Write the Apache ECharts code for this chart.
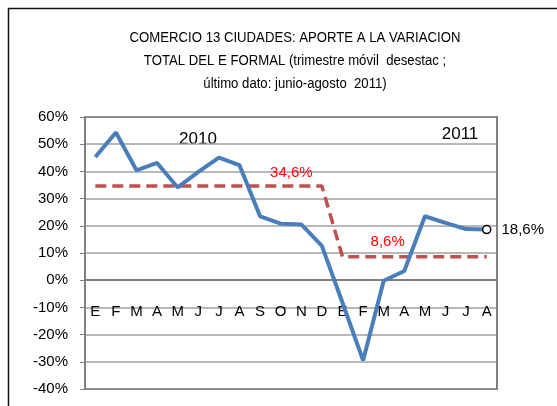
<!DOCTYPE html>
<html>
<head>
<meta charset="utf-8">
<script src="https://cdn.jsdelivr.net/npm/echarts@6/dist/echarts.min.js"></script>
<style>
  html, body { margin: 0; padding: 0; background: #fff; }
  #chart { width: 557px; height: 406px; }
</style>
</head>
<body>
<div id="chart"></div>
<script>
// meses: ene 2010 - ago 2011
const meses = ['E', 'F', 'M', 'A', 'M', 'J', 'J', 'A', 'S', 'O', 'N', 'D',
  'E', 'F', 'M', 'A', 'M', 'J', 'J', 'A']
// aporte a la variacion (%)
const aporte = [45.3, 54.3, 40.4, 43.1, 34.1, 39.8, 45.1, 42.3, 23.5, 20.8, 20.5, 12.6,
  -8.3, -29.5, -0.2, 3.4, 23.5, 21.1, 18.8, 18.6]
// promedio anual (%)
const promedio = [34.6, 34.6, 34.6, 34.6, 34.6, 34.6, 34.6, 34.6, 34.6, 34.6, 34.6, 34.6,
  8.6, 8.6, 8.6, 8.6, 8.6, 8.6, 8.6, 8.6]
const yTicks = { min: -40, max: 60, step: 10 }

const FONT = "'Liberation Sans', sans-serif"
const fmt = v => v.toFixed(1).replace('.', ',') + '%'

const last = aporte.length - 1
const aporteData = aporte.map((v, i) => {
  if (i !== last) return v
  return {
    value: v,
    symbol: 'circle',
    symbolSize: 8,
    itemStyle: { color: '#fff', borderColor: '#000', borderWidth: 1.5 },
    label: {
      show: true, position: 'right', distance: 10,
      color: '#000', fontSize: 15, fontFamily: FONT,
      formatter: p => fmt(p.value)
    }
  }
})

// etiquetas rojas de los promedios (con simbolo invisible para que salga la etiqueta)
const labelIdx = { 10: [-10, 0], 14: [4, -2] }
const promedioData = promedio.map((v, i) => {
  if (!(i in labelIdx)) return v
  return {
    value: v,
    symbol: 'circle',
    symbolSize: 1,
    itemStyle: { color: 'rgba(0,0,0,0)', borderWidth: 0 },
    label: {
      show: true, position: 'top', distance: 5, offset: labelIdx[i],
      color: '#ff0000', fontSize: 15, fontFamily: FONT,
      formatter: p => fmt(p.value)
    }
  }
})

// el eje x va en el 0%: 109 px por encima del borde inferior
const zeroOffset = -109

const chart = echarts.init(document.getElementById('chart'), null, { renderer: 'canvas' })
chart.setOption({
  animation: false,
  backgroundColor: '#fff',
  grid: {
    left: 85, top: 117, right: 60, bottom: 17,
    outerBoundsMode: 'none',
    containLabel: false,
    show: true, borderColor: '#111', borderWidth: 1.5
  },
  graphic: [
    {
      type: 'rect', silent: true,
      shape: { x: 8.5, y: 8.5, width: 560, height: 420 },
      style: { fill: null, stroke: '#111', lineWidth: 1.5 }
    },
    {
      type: 'text', x: 295, y: 26, scaleX: 0.94,
      style: {
        text: 'COMERCIO 13 CIUDADES: APORTE A LA VARIACION\nTOTAL DEL E FORMAL (trimestre móvil  desestac ;\núltimo dato: junio-agosto  2011)',
        align: 'center', verticalAlign: 'top', lineHeight: 23.3,
        font: '14px ' + FONT, fill: '#000'
      }
    },
    {
      type: 'text', x: 198, y: 139,
      style: { text: '2010', align: 'center', verticalAlign: 'middle', font: '17px ' + FONT, fill: '#000' }
    },
    {
      type: 'text', x: 460, y: 134,
      style: { text: '2011', align: 'center', verticalAlign: 'middle', font: '17px ' + FONT, fill: '#000' }
    }
  ],
  xAxis: {
    type: 'category',
    data: meses,
    boundaryGap: true,
    position: 'bottom',
    offset: zeroOffset,
    axisLine: { onZero: false, lineStyle: { color: '#808080', width: 2 } },
    axisTick: { show: false },
    axisLabel: { margin: 24, color: '#000', fontSize: 15, fontFamily: FONT, interval: 0 },
    splitLine: {
      show: true,
      interval: (i) => i === 12,
      lineStyle: { color: '#808080', width: 2 }
    }
  },
  yAxis: {
    type: 'value',
    min: yTicks.min, max: yTicks.max, interval: yTicks.step,
    axisLine: { show: true, lineStyle: { color: '#808080', width: 2 } },
    axisTick: { show: true, length: 5, lineStyle: { color: '#808080' } },
    axisLabel: { margin: 17, color: '#000', fontSize: 15, fontFamily: FONT, formatter: '{value}%' },
    splitLine: { lineStyle: { color: '#a0a0a0', width: 1.5 } }
  },
  series: [
    {
      type: 'line',
      data: promedioData,
      symbol: 'none',
      lineStyle: { color: '#c0504d', width: 3.5, type: [11, 6] },
      z: 2
    },
    {
      type: 'line',
      data: aporteData,
      symbol: 'none',
      lineStyle: { color: '#4a7ebb', width: 4 },
      z: 3
    }
  ]
})
</script>
</body>
</html>
